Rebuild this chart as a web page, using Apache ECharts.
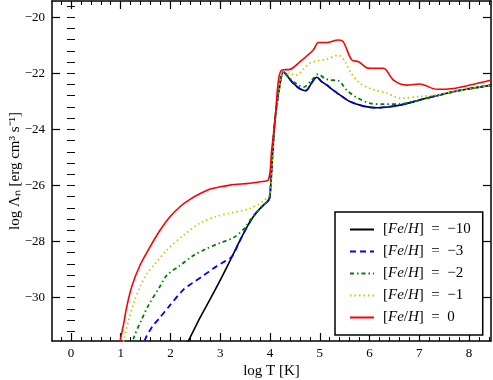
<!DOCTYPE html>
<html>
<head>
<meta charset="utf-8">
<script src="https://cdn.jsdelivr.net/npm/echarts@6/dist/echarts.min.js"></script>
<style>
  html, body { margin: 0; padding: 0; background: #fff; }
  #chart { width: 493px; height: 380px; }
</style>
</head>
<body>
<div id="chart"></div>
<script>
// cooling curves (x = log T, y = log Lambda_n)
const fe10X = [2.25, 2.36, 2.6, 2.8, 3.0, 3.2, 3.4, 3.57, 3.73, 3.87, 3.97, 4.0, 4.05, 4.1, 4.18, 4.27, 4.37, 4.47, 4.6, 4.72, 4.8, 4.87, 4.94, 5.04, 5.14, 5.27, 5.41, 5.61, 5.88, 6.14, 6.41, 6.7, 7.01, 7.35, 7.68, 8.0, 8.45]
const fe10Y = [-31.9, -31.55, -30.7, -30.05, -29.38, -28.67, -27.95, -27.38, -26.96, -26.7, -26.53, -26.35, -24.9, -23.67, -22.6, -21.95, -22.15, -22.36, -22.55, -22.62, -22.45, -22.25, -22.14, -22.3, -22.42, -22.6, -22.78, -23.01, -23.17, -23.23, -23.19, -23.1, -22.95, -22.8, -22.66, -22.55, -22.42]

const fe3X = [1.45, 1.49, 1.63, 1.79, 1.96, 2.26, 2.45, 2.66, 2.86, 3.05, 3.23, 3.4, 3.57, 3.73, 3.87, 3.97, 4.0, 4.05, 4.1, 4.18, 4.27, 4.37, 4.47, 4.6, 4.72, 4.8, 4.87, 4.94, 5.04, 5.14, 5.27, 5.41, 5.61, 5.88, 6.14, 6.41, 6.7, 7.01, 7.35, 7.68, 8.0, 8.45]
const fe3Y = [-31.9, -31.5, -31.05, -30.71, -30.34, -29.72, -29.47, -29.22, -28.96, -28.75, -28.55, -27.95, -27.38, -26.96, -26.7, -26.53, -26.35, -24.9, -23.67, -22.6, -21.95, -22.15, -22.36, -22.55, -22.62, -22.45, -22.25, -22.14, -22.3, -22.42, -22.6, -22.78, -23.01, -23.17, -23.23, -23.19, -23.1, -22.95, -22.8, -22.66, -22.55, -22.42]

const fe2X = [1.22, 1.26, 1.43, 1.56, 1.79, 1.93, 2.19, 2.46, 2.73, 3.0, 3.27, 3.47, 3.63, 3.73, 3.87, 3.97, 4.0, 4.05, 4.1, 4.18, 4.27, 4.37, 4.47, 4.57, 4.67, 4.84, 4.97, 5.1, 5.2, 5.37, 5.54, 5.74, 6.04, 6.28, 6.55, 6.8, 7.01, 7.35, 7.68, 8.0, 8.45]
const fe2Y = [-31.9, -31.45, -30.75, -30.27, -29.6, -29.2, -28.86, -28.5, -28.25, -28.05, -27.86, -27.56, -27.17, -26.96, -26.7, -26.53, -26.35, -24.9, -23.67, -22.6, -21.95, -22.12, -22.3, -22.42, -22.5, -22.24, -22.03, -22.18, -22.24, -22.26, -22.6, -22.86, -23.08, -23.1, -23.1, -23.04, -22.95, -22.8, -22.66, -22.55, -22.42]

const fe1X = [1.02, 1.06, 1.16, 1.26, 1.39, 1.53, 1.69, 1.93, 2.26, 2.6, 2.93, 3.2, 3.6, 3.87, 4.0, 4.05, 4.1, 4.18, 4.27, 4.37, 4.54, 4.67, 4.8, 4.97, 5.14, 5.37, 5.51, 5.61, 5.81, 6.01, 6.11, 6.35, 6.61, 7.01, 7.35, 7.5, 7.68, 8.0, 8.45]
const fe1Y = [-31.9, -31.55, -30.81, -30.21, -29.62, -29.14, -28.8, -28.3, -27.78, -27.34, -27.1, -26.99, -26.82, -26.55, -26.29, -24.9, -23.67, -22.6, -21.95, -22.0, -22.06, -21.85, -21.64, -21.55, -21.5, -21.35, -21.59, -21.94, -22.36, -22.54, -22.6, -22.71, -22.89, -22.83, -22.77, -22.72, -22.66, -22.55, -22.42]

const fe0X = [0.95, 0.99, 1.06, 1.12, 1.22, 1.39, 1.59, 1.79, 1.99, 2.19, 2.4, 2.6, 2.8, 3.0, 3.2, 3.6, 3.8, 3.97, 4.03, 4.1, 4.17, 4.24, 4.4, 4.6, 4.87, 4.97, 5.07, 5.14, 5.37, 5.47, 5.64, 5.78, 5.94, 6.01, 6.28, 6.48, 6.75, 7.01, 7.35, 7.68, 8.02, 8.45]
const fe0Y = [-32.0, -31.55, -30.93, -30.34, -29.62, -28.84, -28.19, -27.6, -27.12, -26.76, -26.49, -26.29, -26.13, -26.05, -25.99, -25.92, -25.87, -25.79, -24.8, -23.67, -22.24, -21.88, -21.86, -21.59, -21.17, -20.9, -20.9, -20.9, -20.81, -20.87, -21.52, -21.59, -21.8, -21.82, -21.82, -22.24, -22.42, -22.38, -22.57, -22.54, -22.42, -22.24]

const seriesNames = ['[Fe/H] = \u221210', '[Fe/H] = \u22123', '[Fe/H] = \u22122', '[Fe/H] = \u22121', '[Fe/H] = 0']
const xTicks = [0, 1, 2, 3, 4, 5, 6, 7, 8]
const yTicks = [-30, -28, -26, -24, -22, -20]
const xMinorTicks = []
for (let v = -0.2; v < 8.45; v += 0.2) xMinorTicks.push(+v.toFixed(1))
const yMinorTicks = []
for (let v = -31.2; v < -19.4; v += 0.4) yMinorTicks.push(+v.toFixed(1))

const FONT = 'Liberation Serif'
const chart = echarts.init(document.getElementById('chart'))

const zip = (xs, ys) => xs.map((x, i) => [x, ys[i]])

const lineSeries = (name, xs, ys, color, type, width) => ({
  name,
  type: 'line',
  data: zip(xs, ys),
  symbol: 'none',
  showSymbol: false,
  smooth: 0.3,
  clip: true,
  lineStyle: { color, type, width },
  itemStyle: { color },
})

const frame = { show: true, onZero: false, lineStyle: { color: '#000', width: 1.5 } }

const xAxisBase = {
  type: 'value', min: -0.38, max: 8.44,
  splitLine: { show: false },
  axisLabel: { show: false },
}
const yAxisBase = {
  type: 'value', min: -31.55, max: -19.42,
  splitLine: { show: false },
  axisLabel: { show: false },
}
const major = vals => ({ show: true, inside: true, length: 8, customValues: vals, lineStyle: { color: '#000', width: 1.2 } })
const minor = vals => ({ show: true, inside: true, length: 4, customValues: vals, lineStyle: { color: '#000', width: 1 } })

const options = {
  animation: false,
  backgroundColor: '#fff',
  grid: { left: 52, right: 2, top: 1, bottom: 39, containLabel: false, outerBoundsMode: 'none' },
  xAxis: [
    {
      ...xAxisBase, position: 'bottom', axisLine: frame, axisTick: major(xTicks),
      axisLabel: { show: true, customValues: xTicks, margin: 6, color: '#000', fontFamily: FONT, fontSize: 13 },
      name: 'log T [K]', nameLocation: 'middle', nameGap: 23, nameMoveOverlap: false,
      nameTextStyle: { color: '#000', fontFamily: FONT, fontSize: 15 },
    },
    { ...xAxisBase, position: 'bottom', axisLine: { show: false }, axisTick: minor(xMinorTicks) },
    { ...xAxisBase, position: 'top', axisLine: frame, axisTick: major(xTicks) },
    { ...xAxisBase, position: 'top', axisLine: { show: false }, axisTick: minor(xMinorTicks) },
  ],
  yAxis: [
    {
      ...yAxisBase, position: 'left', axisLine: frame, axisTick: major(yTicks),
      axisLabel: {
        show: true, customValues: yTicks, margin: 7, color: '#000', fontFamily: FONT, fontSize: 13,
        formatter: v => String(v).replace('-', '\u2212'),
      },
      name: 'log \u039b\u2099 [erg cm\u00b3 s\u207b\u00b9]', nameLocation: 'middle', nameGap: 29, nameMoveOverlap: false,
      nameTextStyle: { color: '#000', fontFamily: FONT, fontSize: 15 },
    },
    { ...yAxisBase, position: 'left', axisLine: { show: false }, axisTick: minor(yMinorTicks) },
    { ...yAxisBase, position: 'right', axisLine: frame, axisTick: major(yTicks) },
    { ...yAxisBase, position: 'right', axisLine: { show: false }, axisTick: minor(yMinorTicks) },
  ],
  legend: {
    data: seriesNames,
    orient: 'vertical',
    left: 335,
    top: 212,
    padding: [10, 12, 10, 14],
    itemWidth: 24,
    itemHeight: 14,
    itemGap: 7,
    backgroundColor: '#fff',
    borderColor: '#000',
    borderWidth: 1.5,
    borderRadius: 0,
    itemStyle: { opacity: 0 },
    formatter: name => {
      const val = name.split('= ')[1]
      return `{t|[}{i|Fe}{t|/}{i|H}{t|]  =  ${val}}`
    },
    textStyle: {
      color: '#000', fontFamily: FONT, fontSize: 15, padding: [0, 0, 0, 4],
      rich: {
        t: { fontFamily: FONT, fontSize: 15, color: '#000' },
        i: { fontFamily: FONT, fontSize: 15, fontStyle: 'italic', color: '#000' },
      },
    },
  },
  series: [
    lineSeries(seriesNames[0], fe10X, fe10Y, '#000000', 'solid', 1.6),
    lineSeries(seriesNames[1], fe3X, fe3Y, '#0000ff', [6, 4], 1.8),
    lineSeries(seriesNames[2], fe2X, fe2Y, '#008000', [4, 3, 1.5, 3], 1.8),
    lineSeries(seriesNames[3], fe1X, fe1Y, '#c8c800', [1.5, 3], 1.8),
    lineSeries(seriesNames[4], fe0X, fe0Y, '#ff0000', 'solid', 1.6),
  ],
}

chart.setOption(options)
</script>
</body>
</html>
